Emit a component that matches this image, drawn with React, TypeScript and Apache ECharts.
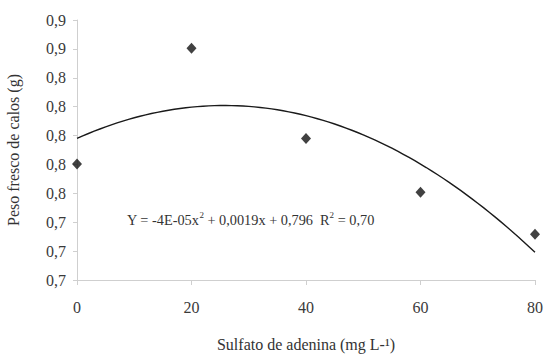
import React, { useEffect, useRef } from "react";
import * as echarts from "echarts";

const doses = [0, 20, 40, 60, 80];
const freshWeight = [0.7803, 0.8604, 0.7979, 0.7607, 0.7316];
const xTicks = [0, 20, 40, 60, 80];
const yTickMin = 0.7;
const yTickMax = 0.88;
const yTickStep = 0.02;
const equationText = ["Y = -4E-05x", "2", " + 0,0019x + 0,796  R", "2", " = 0,70"];

// quadratic least squares fit of the observed points (the trend line)
function quadFit(xs: number[], ys: number[]) {
  const n = xs.length;
  const s = [0, 0, 0, 0, 0];
  const t = [0, 0, 0];
  for (let i = 0; i < n; i++) {
    const x = xs[i];
    for (let k = 0; k < 5; k++) s[k] += Math.pow(x, k);
    for (let k = 0; k < 3; k++) t[k] += ys[i] * Math.pow(x, k);
  }
  const M = [
    [s[0], s[1], s[2], t[0]],
    [s[1], s[2], s[3], t[1]],
    [s[2], s[3], s[4], t[2]],
  ];
  for (let i = 0; i < 3; i++) {
    for (let j = i + 1; j < 3; j++) {
      const f = M[j][i] / M[i][i];
      for (let k = i; k < 4; k++) M[j][k] -= f * M[i][k];
    }
  }
  const c = [0, 0, 0];
  for (let i = 2; i >= 0; i--) {
    let v = M[i][3];
    for (let k = i + 1; k < 3; k++) v -= M[i][k] * c[k];
    c[i] = v / M[i][i];
  }
  return c;
}

export default function App() {
  const ref = useRef<HTMLDivElement>(null);
  useEffect(() => {
    if (!ref.current) return;
    document.body.style.margin = "0";
    const chart = echarts.init(ref.current, undefined, { renderer: "svg" });
    const [c0, c1, c2] = quadFit(doses, freshWeight);
    const trend: number[][] = [];
    for (let x = doses[0]; x <= doses[doses.length - 1]; x += 1) {
      trend.push([x, c0 + c1 * x + c2 * x * x]);
    }
    const font = "'Liberation Serif', 'Times New Roman', serif";
    chart.setOption({
      animation: false,
      backgroundColor: "#ffffff",
      grid: { left: 77, right: 10, top: 20, bottom: 76, containLabel: false, outerBoundsMode: "none" },
      xAxis: {
        type: "value",
        min: xTicks[0],
        max: xTicks[xTicks.length - 1],
        interval: 20,
        name: "Sulfato de adenina (mg L-¹)",
        nameLocation: "middle",
        nameGap: 56,
        nameTextStyle: { fontFamily: font, fontSize: 16, color: "#333" },
        axisLine: { lineStyle: { color: "#cfcfcf", width: 1 } },
        axisTick: { show: true, length: 5, lineStyle: { color: "#cfcfcf" } },
        splitLine: { show: false },
        axisLabel: { fontFamily: font, fontSize: 16, color: "#3a3a3a", margin: 19 },
      },
      yAxis: {
        type: "value",
        min: yTickMin,
        max: yTickMax,
        interval: yTickStep,
        name: "Peso fresco de calos (g)",
        nameLocation: "middle",
        nameRotate: 90,
        nameGap: 56,
        nameTextStyle: { fontFamily: font, fontSize: 16, color: "#333" },
        axisLine: { show: true, lineStyle: { color: "#cfcfcf", width: 1 } },
        axisTick: { show: true, length: 4, lineStyle: { color: "#cfcfcf" } },
        splitLine: { show: false },
        axisLabel: {
          fontFamily: font,
          fontSize: 16,
          color: "#3a3a3a",
          margin: 11,
          formatter: (v: number) => (Math.round(v * 10 + 1e-6) / 10).toFixed(1).replace(".", ","),
        },
      },
      series: [
        {
          type: "line",
          data: trend,
          showSymbol: false,
          symbol: "none",
          lineStyle: { color: "#1a1a1a", width: 1.4 },
          z: 2,
        },
        {
          type: "scatter",
          data: doses.map((d, i) => [d, freshWeight[i]]),
          symbol: "diamond",
          symbolSize: [10, 11],
          itemStyle: { color: "#111" },
          z: 3,
        },
      ],
      graphic: [
        {
          type: "text",
          left: 127,
          top: 210,
          style: {
            text:
              "{a|" + equationText[0] + "}{s|" + equationText[1] + "}{a|" + equationText[2] +
              "}{s|" + equationText[3] + "}{a|" + equationText[4] + "}",
            rich: {
              a: { fontFamily: font, fontSize: 14.3, fill: "#333", verticalAlign: "bottom", lineHeight: 17 },
              s: { fontFamily: font, fontSize: 9, fill: "#333", verticalAlign: "top", lineHeight: 17, padding: [0, 0, 8, 0] },
            },
          },
        },
      ],
    });
    return () => chart.dispose();
  }, []);
  return <div ref={ref} style={{ width: 545, height: 356 }} />;
}
